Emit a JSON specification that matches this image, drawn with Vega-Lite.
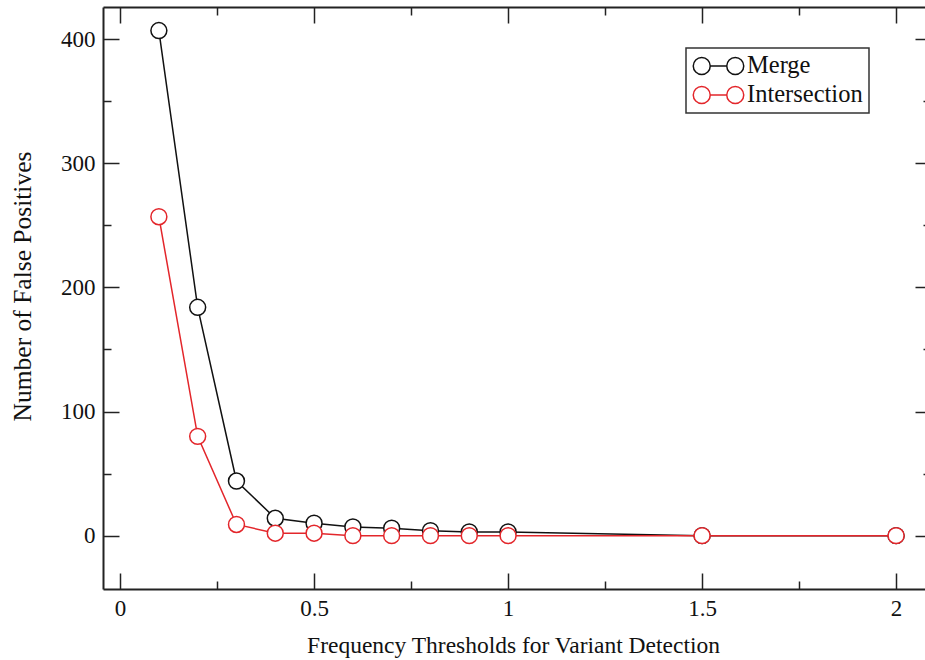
{
  "$schema": "https://vega.github.io/schema/vega-lite/v6.json",
  "width": 828,
  "height": 582,
  "autosize": {"type": "none"},
  "padding": {"left": 103, "top": 7, "right": 0, "bottom": 71},
  "background": "white",
  "config": {
    "view": {"stroke": null},
    "font": "Liberation Serif",
    "axis": {
      "domainColor": "#222",
      "domainWidth": 2,
      "tickColor": "#222",
      "tickWidth": 1.5,
      "grid": false,
      "labelFont": "Liberation Serif",
      "labelFontSize": 23,
      "labelColor": "#111",
      "titleFont": "Liberation Serif",
      "titleFontSize": 23.5,
      "titleFontWeight": "normal",
      "titleColor": "#111",
      "labelFlush": false,
      "labelOverlap": false
    },
    "legend": {
      "orient": "none",
      "legendX": 583,
      "legendY": 41,
      "padding": 6,
      "strokeColor": "#333",
      "strokeWidth": 1.5,
      "fillColor": "white",
      "labelFont": "Liberation Serif",
      "labelFontSize": 24.5,
      "labelColor": "#111",
      "labelOffset": 2,
      "rowPadding": 4,
      "clipHeight": 24
    }
  },
  "data": {
    "values": [
      {"threshold": 0.1, "count": 407, "method": "Merge"},
      {"threshold": 0.2, "count": 184, "method": "Merge"},
      {"threshold": 0.3, "count": 44, "method": "Merge"},
      {"threshold": 0.4, "count": 14, "method": "Merge"},
      {"threshold": 0.5, "count": 10, "method": "Merge"},
      {"threshold": 0.6, "count": 7, "method": "Merge"},
      {"threshold": 0.7, "count": 6, "method": "Merge"},
      {"threshold": 0.8, "count": 4, "method": "Merge"},
      {"threshold": 0.9, "count": 3, "method": "Merge"},
      {"threshold": 1.0, "count": 3, "method": "Merge"},
      {"threshold": 1.5, "count": 0, "method": "Merge"},
      {"threshold": 2.0, "count": 0, "method": "Merge"},
      {"threshold": 0.1, "count": 257, "method": "Intersection"},
      {"threshold": 0.2, "count": 80, "method": "Intersection"},
      {"threshold": 0.3, "count": 9, "method": "Intersection"},
      {"threshold": 0.4, "count": 2, "method": "Intersection"},
      {"threshold": 0.5, "count": 2, "method": "Intersection"},
      {"threshold": 0.6, "count": 0, "method": "Intersection"},
      {"threshold": 0.7, "count": 0, "method": "Intersection"},
      {"threshold": 0.8, "count": 0, "method": "Intersection"},
      {"threshold": 0.9, "count": 0, "method": "Intersection"},
      {"threshold": 1.0, "count": 0, "method": "Intersection"},
      {"threshold": 1.5, "count": 0, "method": "Intersection"},
      {"threshold": 2.0, "count": 0, "method": "Intersection"}
    ]
  },
  "resolve": {"axis": {"x": "independent", "y": "independent"}},
  "layer": [
    {
      "transform": [{"filter": "datum.method === 'Merge'"}],
      "mark": {"type": "line", "strokeWidth": 1.5},
      "encoding": {
        "x": {
          "field": "threshold", "type": "quantitative",
          "scale": {"domain": [-0.044, 2.09], "nice": false, "zero": false},
          "axis": {
            "orient": "bottom",
            "title": "Frequency Thresholds for Variant Detection",
            "titlePadding": 5,
            "titleX": 410,
            "values": [0, 0.25, 0.5, 0.75, 1, 1.25, 1.5, 1.75, 2],
            "format": "~g",
            "labelExpr": "datum.value % 0.5 == 0 ? datum.label : ''",
            "tickSize": {"condition": {"test": "datum.value % 0.5 == 0", "value": -16}, "value": -8},
            "labelPadding": 24
          }
        },
        "y": {
          "field": "count", "type": "quantitative",
          "scale": {"domain": [-43, 426], "nice": false, "zero": false},
          "axis": {
            "orient": "left",
            "title": "Number of False Positives",
            "titleFontSize": 25.5,
            "titlePadding": 25,
            "titleY": 279,
            "values": [0, 50, 100, 150, 200, 250, 300, 350, 400],
            "format": "d",
            "labelExpr": "datum.value % 100 == 0 ? datum.label : ''",
            "tickSize": {"condition": {"test": "datum.value % 100 == 0", "value": -16}, "value": -8},
            "labelPadding": 24
          }
        },
        "color": {
          "field": "method", "type": "nominal",
          "scale": {"domain": ["Merge", "Intersection"], "range": ["#111111", "#e3262b"]},
          "legend": {
            "title": null,
            "symbolType": "M-0.99,0A0.333,0.333,0,1,1,-0.324,0A0.333,0.333,0,1,1,-0.99,0ZM-0.324,0L0.324,0M0.324,0A0.333,0.333,0,1,1,0.99,0A0.333,0.333,0,1,1,0.324,0Z",
            "symbolSize": 2601,
            "symbolStrokeWidth": 1.5,
            "symbolFillColor": "white"
          }
        }
      }
    },
    {
      "transform": [{"filter": "datum.method === 'Merge'"}],
      "mark": {"type": "point", "filled": false, "fill": "white", "fillOpacity": 1, "opacity": 1, "size": 254, "strokeWidth": 1.5},
      "encoding": {
        "x": {
          "field": "threshold", "type": "quantitative",
          "scale": {"domain": [-0.044, 2.09], "nice": false, "zero": false},
          "axis": {
            "orient": "top",
            "title": null,
            "labels": false,
            "values": [0, 0.25, 0.5, 0.75, 1, 1.25, 1.5, 1.75, 2],
            "tickSize": {"condition": {"test": "datum.value % 0.5 == 0", "value": -16}, "value": -8}
          }
        },
        "y": {
          "field": "count", "type": "quantitative",
          "scale": {"domain": [-43, 426], "nice": false, "zero": false},
          "axis": {
            "orient": "right",
            "title": null,
            "labels": false,
            "values": [0, 50, 100, 150, 200, 250, 300, 350, 400],
            "tickSize": {"condition": {"test": "datum.value % 100 == 0", "value": -16}, "value": -8}
          }
        },
        "color": {
          "field": "method", "type": "nominal",
          "scale": {"domain": ["Merge", "Intersection"], "range": ["#111111", "#e3262b"]},
          "legend": {
            "title": null,
            "symbolType": "M-0.99,0A0.333,0.333,0,1,1,-0.324,0A0.333,0.333,0,1,1,-0.99,0ZM-0.324,0L0.324,0M0.324,0A0.333,0.333,0,1,1,0.99,0A0.333,0.333,0,1,1,0.324,0Z",
            "symbolSize": 2601,
            "symbolStrokeWidth": 1.5,
            "symbolFillColor": "white"
          }
        }
      }
    },
    {
      "transform": [{"filter": "datum.method === 'Intersection'"}],
      "mark": {"type": "line", "strokeWidth": 1.5},
      "encoding": {
        "x": {"field": "threshold", "type": "quantitative", "scale": {"domain": [-0.044, 2.09], "nice": false, "zero": false}, "axis": null},
        "y": {"field": "count", "type": "quantitative", "scale": {"domain": [-43, 426], "nice": false, "zero": false}, "axis": null},
        "color": {
          "field": "method", "type": "nominal",
          "scale": {"domain": ["Merge", "Intersection"], "range": ["#111111", "#e3262b"]},
          "legend": {
            "title": null,
            "symbolType": "M-0.99,0A0.333,0.333,0,1,1,-0.324,0A0.333,0.333,0,1,1,-0.99,0ZM-0.324,0L0.324,0M0.324,0A0.333,0.333,0,1,1,0.99,0A0.333,0.333,0,1,1,0.324,0Z",
            "symbolSize": 2601,
            "symbolStrokeWidth": 1.5,
            "symbolFillColor": "white"
          }
        }
      }
    },
    {
      "transform": [{"filter": "datum.method === 'Intersection'"}],
      "mark": {"type": "point", "filled": false, "fill": "white", "fillOpacity": 1, "opacity": 1, "size": 254, "strokeWidth": 1.5},
      "encoding": {
        "x": {"field": "threshold", "type": "quantitative", "scale": {"domain": [-0.044, 2.09], "nice": false, "zero": false}, "axis": null},
        "y": {"field": "count", "type": "quantitative", "scale": {"domain": [-43, 426], "nice": false, "zero": false}, "axis": null},
        "color": {
          "field": "method", "type": "nominal",
          "scale": {"domain": ["Merge", "Intersection"], "range": ["#111111", "#e3262b"]},
          "legend": {
            "title": null,
            "symbolType": "M-0.99,0A0.333,0.333,0,1,1,-0.324,0A0.333,0.333,0,1,1,-0.99,0ZM-0.324,0L0.324,0M0.324,0A0.333,0.333,0,1,1,0.99,0A0.333,0.333,0,1,1,0.324,0Z",
            "symbolSize": 2601,
            "symbolStrokeWidth": 1.5,
            "symbolFillColor": "white"
          }
        }
      }
    }
  ]
}
